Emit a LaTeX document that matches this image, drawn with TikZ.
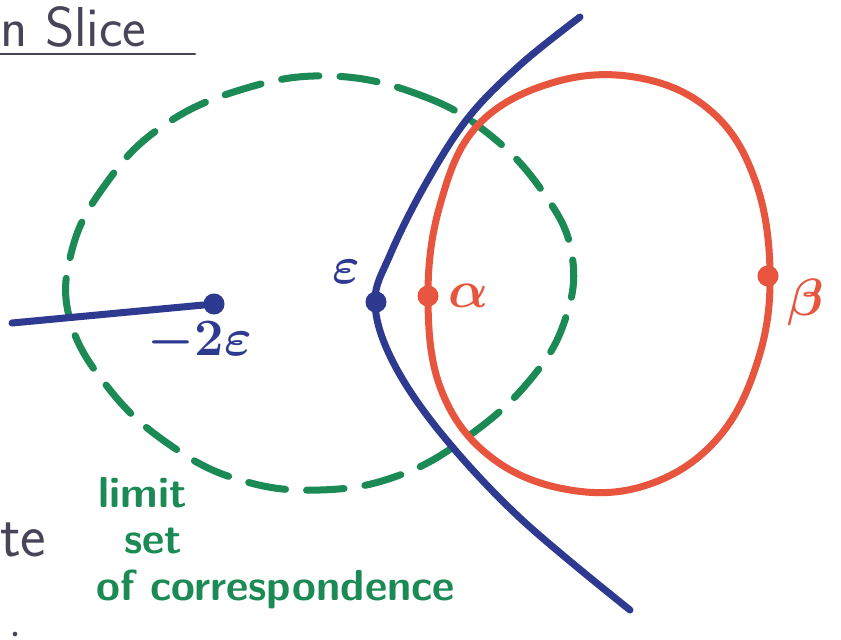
\documentclass[tikz,border=0pt]{standalone}
\usepackage{amsmath}
\usepackage{amssymb}
\usepackage{xcolor}
\usepackage{tikz}
\usetikzlibrary{positioning}
\definecolor{pen}{HTML}{4A4458}
\definecolor{bpen}{HTML}{2E3A8F}
\definecolor{rpen}{HTML}{E8553F}
\definecolor{gpen}{HTML}{1C8A55}

\begin{document}
\begin{tikzpicture}[x=0.03cm, y=-0.03cm, line/.style={line width=6pt, line cap=round, line join=round}, dot/.style={circle, fill, inner sep=0pt, minimum size=18pt}, hand/.style={font=\sffamily\bfseries\fontsize{37}{39}\selectfont, inner sep=0pt}, sym/.style={font=\boldmath\Huge, scale=1.8, inner sep=0pt}]
\useasboundingbox (0,0) rectangle (841,639);
% title and margin text
\node[pen, anchor=base west, inner sep=0pt, font=\sffamily\fontsize{48}{50}\selectfont] (title) at (0,46) {n Slice};
\draw[pen, line width=2.5pt, line cap=round] (0,54) -- (195,54);
\node[pen, anchor=base west, inner sep=0pt, font=\sffamily\fontsize{52}{54}\selectfont] (te) at (0,556) {te};
\node[circle, fill=pen, inner sep=0pt, minimum size=4pt] (mark) at (15,634) {};
% limit set
\draw[line, gpen, dash pattern=on 32pt off 18pt] plot[smooth cycle, tension=0.7] coordinates {(330,76) (420,95) (490,135) (545,195) (572,255) (565,320) (530,380) (470,435) (400,475) (320,490) (240,480) (170,445) (110,390) (70,320) (72,250) (105,185) (160,128) (240,90)};
% red circle
\draw[line, rpen] plot[smooth cycle, tension=0.65] coordinates {(428,300) (440,205) (478,125) (555,82) (640,78) (712,112) (755,180) (770,272) (758,360) (718,438) (650,484) (570,490) (492,458) (442,392)};
\node[dot, rpen] (alpha) at (428,296) {};
\node[dot, rpen] (beta) at (768,276) {};
\node[sym, rpen] (la) at (468,296) {$\alpha$};
\node[sym, rpen] (lb) at (806,302) {$\beta$};
% blue curve
\draw[line, bpen] plot[smooth, tension=0.6] coordinates {(580,17) (520,65) (468,118) (425,185) (390,255) (375,302) (392,360) (440,432) (520,518) (630,610)};
\node[dot, bpen] (eps) at (376,302) {};
\node[sym, bpen] (le) at (346,272) {$\varepsilon$};
\coordinate (start) at (12,323);
\node[dot, bpen] (m2e) at (214,304) {};
\draw[line, bpen] (start) -- (m2e);
\node[sym, bpen] (lm) at (200,342) {$-2\varepsilon$};
% caption
\node[hand, gpen, anchor=west] (l1) at (98,493) {limit};
\node[hand, gpen, anchor=west] (l2) at (124,541) {set};
\node[hand, gpen, anchor=west] (l3) at (96,589) {of correspondence};
\end{tikzpicture}
\end{document}
